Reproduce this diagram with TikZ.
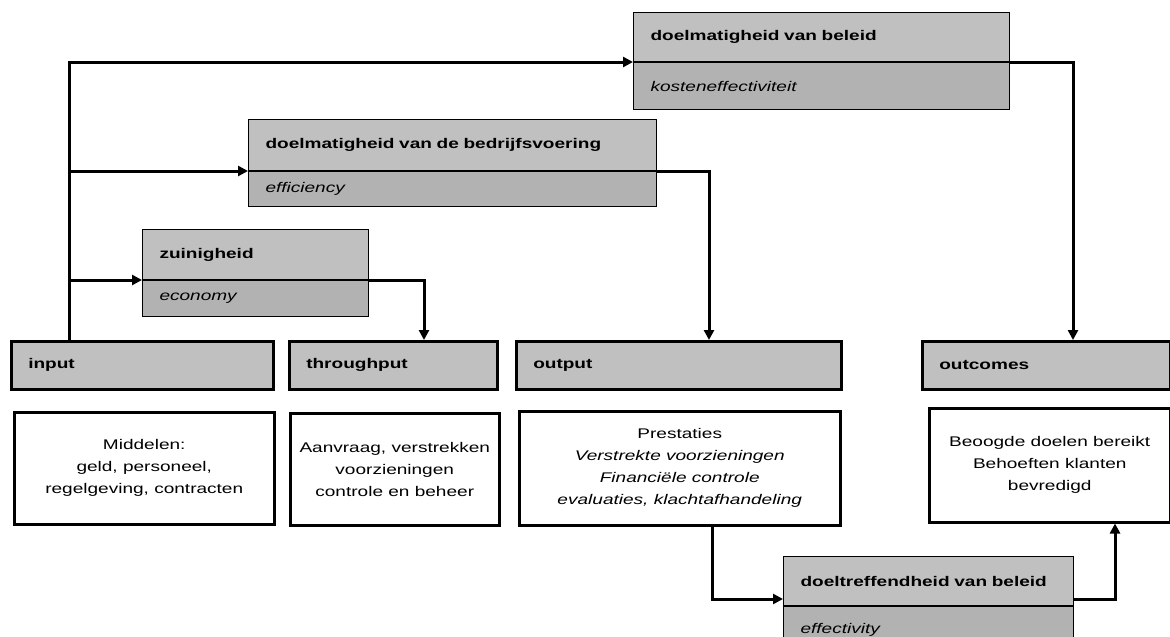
\documentclass[tikz,border=0pt]{standalone}
\usepackage{fontspec}
\setmainfont{Liberation Sans}[FakeStretch=1.36,
  BoldFeatures={FakeStretch=1.36},
  ItalicFeatures={FakeStretch=1.36}]
\usetikzlibrary{positioning,arrows.meta}
\definecolor{kopgrijs}{RGB}{192,192,192}
\definecolor{subgrijs}{RGB}{178,178,178}

\begin{document}
\begin{tikzpicture}[x=1pt, y=-1pt,
    font=\fontsize{14}{22}\selectfont,
    kop/.style = {draw, line width=2.5pt, fill=kopgrijs, anchor=north west, minimum height=48pt,
                  inner xsep=17pt, align=left, font=\fontsize{14}{22}\selectfont\bfseries},
    blok/.style = {draw, line width=1pt, fill=kopgrijs, anchor=north west, minimum height=49pt,
                   inner xsep=17pt, align=left, font=\fontsize{14}{22}\selectfont\bfseries},
    sub/.style = {draw, line width=1pt, fill=subgrijs, minimum height=36pt,
                  inner xsep=17pt, align=left, font=\fontsize{14}{22}\selectfont\itshape},
    tekst/.style = {draw, line width=2.5pt, fill=white, anchor=north west, align=center, inner sep=0pt},
    lijn/.style = {line width=3pt},
    pijl/.style = {lijn, -{Triangle[length=10pt,width=10pt]}}]
  \useasboundingbox (0,0) rectangle (1170,637);
  \clip (0,0) rectangle (1170,637);

  % kopjes
  \node[kop, text width=228pt] (invoer) at (10,340) {input};
  \node[kop, text width=174pt] (door) at (288,340) {throughput};
  \node[kop, text width=291pt] (uit) at (515,340) {output};
  \node[kop, text width=214pt] (uitkomst) at (921,340) {outcomes};

  % toelichting
  \node[tekst, minimum width=260pt, minimum height=112pt] (middelen) at (13,411)
    {Middelen:\\geld, personeel,\\regelgeving, contracten};
  \node[tekst, minimum width=209pt, minimum height=112pt] (proces) at (289,412)
    {Aanvraag, verstrekken\\voorzieningen\\controle en beheer};
  \node[tekst, minimum width=321pt, minimum height=114pt] (prestaties) at (518,410)
    {Prestaties\\\textit{Verstrekte voorzieningen}\\\textit{Financiële controle}\\\textit{evaluaties, klachtafhandeling}};
  \node[tekst, minimum width=241pt, minimum height=114pt] (doelen) at (928,407)
    {Beoogde doelen bereikt\\Behoeften klanten\\bevredigd};

  % criteria
  \node[blok, text width=192pt, minimum height=50pt] (zuin) at (142,229) {zuinigheid};
  \node[sub, text width=192pt, below=0pt of zuin] (zuinsub) {economy};
  \node[blok, text width=374pt, minimum height=51pt] (bedrijf) at (248,119) {doelmatigheid van de bedrijfsvoering};
  \node[sub, text width=374pt, minimum height=35pt, below=0pt of bedrijf] (bedrijfsub) {efficiency};
  \node[blok, text width=342pt] (beleid) at (633,12) {doelmatigheid van beleid};
  \node[sub, text width=342pt, minimum height=47pt, below=0pt of beleid] (beleidsub) {kosteneffectiviteit};
  \node[blok, text width=256pt] (effect) at (783,556) {doeltreffendheid van beleid};
  \node[sub, text width=256pt, minimum height=47pt, below=0pt of effect] (effectsub) {effectivity};

  % verbindingen
  \coordinate (stam) at ([xshift=59pt]invoer.north west);
  \draw[pijl] (stam) |- (beleid.south west);
  \draw[pijl] (stam |- bedrijf.south west) -- (bedrijf.south west);
  \draw[pijl] (stam |- zuin.south west) -- (zuin.south west);
  \draw[pijl] (zuin.south east) -| ([xshift=136pt]door.north west);
  \draw[pijl] (bedrijf.south east) -| ([xshift=194pt]uit.north west);
  \draw[pijl] (beleid.south east) -| ([xshift=152pt]uitkomst.north west);
  \draw[pijl] ([xshift=194pt]prestaties.south west) |- ([yshift=7pt]effect.south west);
  \draw[pijl] ([yshift=7pt]effect.south east) -| ([xshift=187pt]doelen.south west);
\end{tikzpicture}
\end{document}
